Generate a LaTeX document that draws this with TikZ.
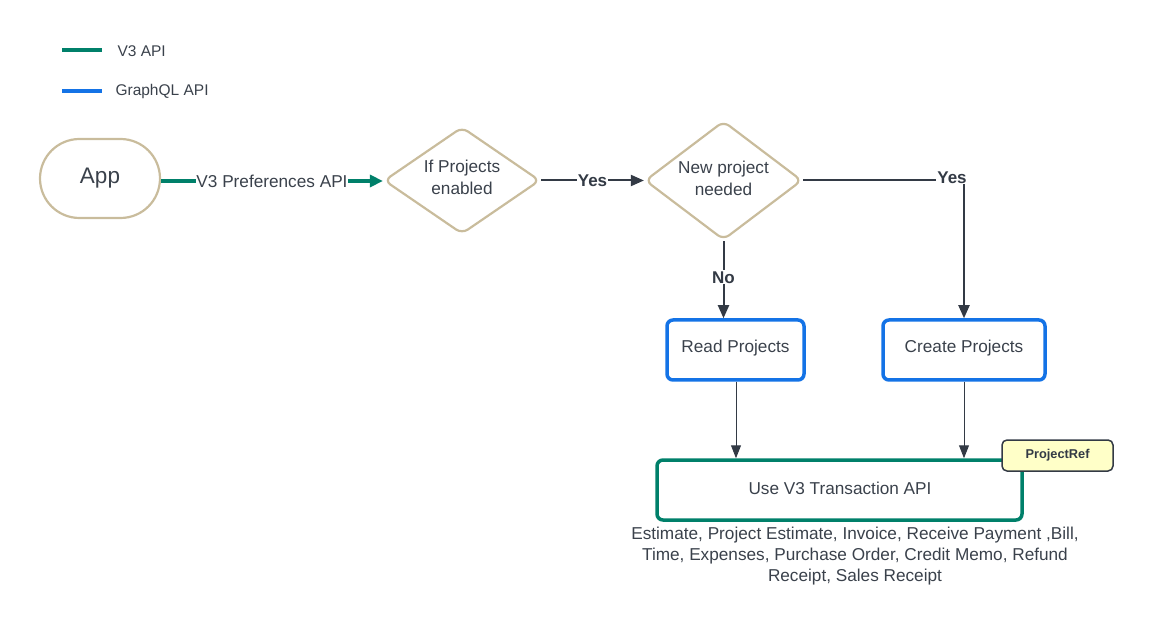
\documentclass[tikz,border=0pt]{standalone}
\usepackage{fontspec}
\setmainfont{Liberation Sans}
\usetikzlibrary{shapes.geometric,arrows.meta}
\definecolor{tan}{HTML}{C9BC9C}
\definecolor{vgreen}{HTML}{00806A}
\definecolor{gblue}{HTML}{1473E6}
\definecolor{ink}{HTML}{333A45}
\definecolor{txt}{HTML}{3A414B}
\definecolor{noteyellow}{HTML}{FFFFC8}
\tikzset{
  txtstyle/.style={text=txt, font=\fontsize{17.2}{22}\selectfont},
  startbox/.style={draw=tan, line width=2.2pt, rounded corners=39.5pt, minimum width=120pt, minimum height=79pt, text=txt, font=\fontsize{22.5}{26}\selectfont},
  decision/.style={diamond, draw=tan, line width=2.2pt, rounded corners=7pt, align=center, txtstyle, inner sep=0pt},
  gqlbox/.style={draw=gblue, line width=3.5pt, rounded corners=6pt, txtstyle},
  v3box/.style={draw=vgreen, line width=3.5pt, rounded corners=6pt, txtstyle},
  notebox/.style={draw=ink, line width=1.5pt, fill=noteyellow, rounded corners=5pt, text=ink, font=\fontsize{12.8}{14}\selectfont\bfseries},
  flow/.style={draw=ink, line width=2pt, -{Triangle[length=13pt,width=11pt]}},
  thinflow/.style={draw=ink, line width=1pt, -{Triangle[length=13pt,width=10pt]}},
  v3flow/.style={draw=vgreen, line width=3.5pt, -{Triangle[length=13pt,width=12pt]}},
  lbl/.style={fill=white, inner sep=1pt, text=ink, font=\fontsize{17}{20}\selectfont\bfseries},
  lbln/.style={fill=white, inner sep=1pt, text=txt, font=\fontsize{17.2}{20}\selectfont},
  legline/.style={line width=3.5pt},
  legtext/.style={anchor=west, text=txt, font=\fontsize{15.5}{18}\selectfont},
}
\begin{document}
\begin{tikzpicture}[x=1pt,y=-1pt]
\useasboundingbox (0,0) rectangle (1152,620);
% legend
\coordinate (lg1a) at (62,50); \coordinate (lg1b) at (102,50);
\coordinate (lg2a) at (62,91); \coordinate (lg2b) at (102,91);
\draw[legline, vgreen] (lg1a) -- (lg1b);
\draw[legline, gblue] (lg2a) -- (lg2b);
\node[legtext] (leg1) at (114,51) {V3 API};
\node[legtext] (leg2) at (112,91) {GraphQL API};
% nodes
\node[startbox] (app) at (100,178.5) {App};
\node[decision, minimum width=156pt, minimum height=107pt] (d1) at (462,180.5) {};
\node[txtstyle, align=center] (d1t) at (462,177) {If Projects\\enabled};
\node[decision, minimum width=157pt, minimum height=119pt] (d2) at (723.5,180.5) {};
\node[txtstyle, align=center] (d2t) at (723.5,178) {New project\\needed};
\node[gqlbox, minimum width=137pt, minimum height=60pt] (read) at (735.5,350) {};
\node[txtstyle] (readt) at (735.5,348) {Read Projects};
\node[gqlbox, minimum width=162pt, minimum height=60pt] (create) at (964,350) {};
\node[txtstyle] (createt) at (964,348) {Create Projects};
\node[v3box, minimum width=365pt, minimum height=60pt] (use) at (839.5,490) {};
\node[txtstyle] (uset) at (840,488) {Use V3 Transaction API};
\node[notebox, minimum width=111pt, minimum height=31pt] (ref) at (1057.5,455.5) {ProjectRef};
\node[txtstyle, align=center, font=\fontsize{17.2}{21}\selectfont] (list) at (855,556) {Estimate, Project Estimate, Invoice, Receive Payment ,Bill,\\Time, Expenses, Purchase Order, Credit Memo, Refund\\Receipt, Sales Receipt};
% connectors
\draw[v3flow] (app.east |- 0,181) -- node[lbln, inner xsep=0.5pt] {V3 Preferences API} (d1.west |- 0,181);
\draw[flow] (d1.east) -- node[lbl] {Yes} (d2.west);
\draw[flow] (d2.south) -- node[lbl, pos=0.47] {No} (read.north -| d2.south);
\draw[flow] (d2.east) -| node[lbl, pos=0.5, xshift=-12pt, yshift=3pt] {Yes} (create.north);
\draw[thinflow] (read.south -| 736,0) -- (use.north -| 736,0);
\draw[thinflow] (create.south) -- (use.north -| create.south);
\end{tikzpicture}
\end{document}
